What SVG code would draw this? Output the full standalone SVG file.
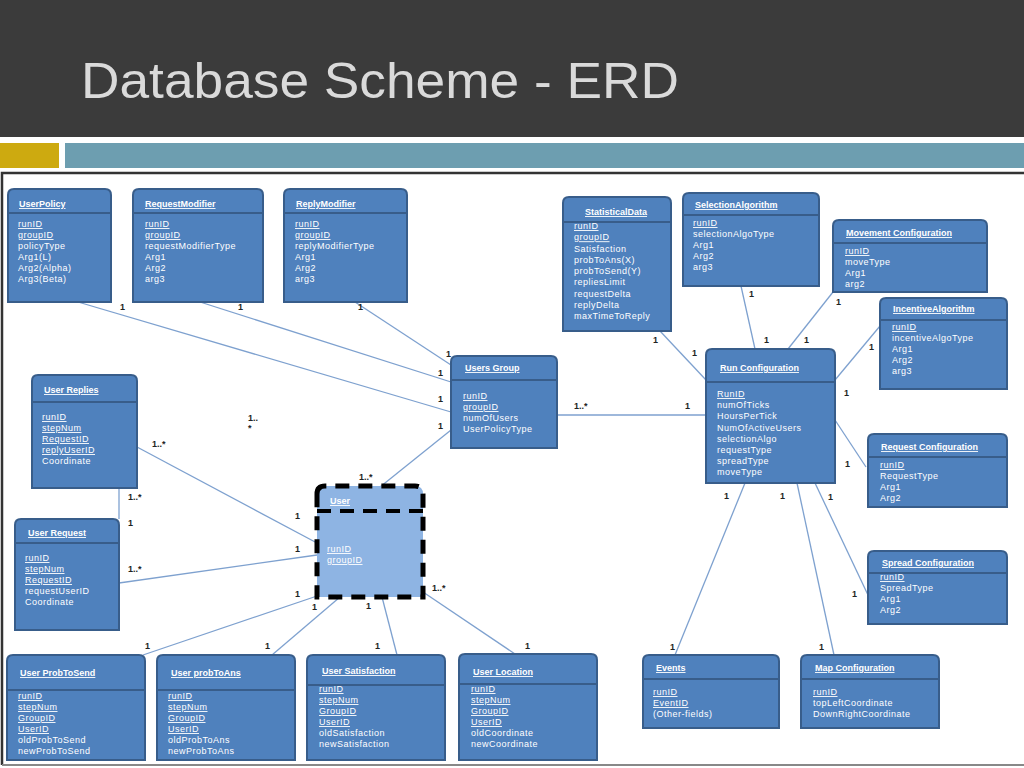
<svg xmlns="http://www.w3.org/2000/svg" width="1024" height="768" viewBox="0 0 1024 768">
<style>
.box{fill:#4f81bd;stroke:#385d8a;stroke-width:2}
.sep{stroke:#385d8a;stroke-width:2}
.ubox{fill:#8eb4e3;stroke:#000;stroke-width:5;stroke-dasharray:14 9}
.usep{stroke:#000;stroke-width:4;stroke-dasharray:14 9}
.t{font-family:"Liberation Sans",Arial,sans-serif;font-size:9px;font-weight:bold;fill:#fff;text-decoration:underline}
.f{font-family:"Liberation Sans",Arial,sans-serif;font-size:9px;fill:#fff;letter-spacing:0.5px}
.k{text-decoration:underline}
.c line{stroke:#7ea1cf;stroke-width:1.3}
.l{font-family:"Liberation Sans",Arial,sans-serif;font-size:9px;font-weight:bold;fill:#222}
</style>
<rect x="0" y="0" width="1024" height="768" fill="#fff"/>
<rect x="0" y="0" width="1024" height="137" fill="#3b3b3b"/>
<text x="81" y="98" font-family="'Liberation Sans',Arial,sans-serif" font-size="50" fill="#dadada" textLength="598" lengthAdjust="spacingAndGlyphs">Database Scheme - ERD</text>
<rect x="0" y="143" width="59" height="25" fill="#cdaa10"/>
<rect x="65" y="143" width="959" height="25" fill="#6d9eb0"/>
<path d="M2,765 V173 H1024" fill="none" stroke="#333" stroke-width="2.5"/>
<line x1="2" y1="765" x2="1024" y2="765" stroke="#888" stroke-width="2"/>

<g class="c" id="connectors">
<line x1="78" y1="302" x2="451" y2="412"/>
<line x1="200" y1="302" x2="451" y2="382"/>
<line x1="355" y1="302" x2="451" y2="365"/>
<line x1="451" y1="430" x2="380" y2="487"/>
<line x1="557" y1="415" x2="706" y2="415"/>
<line x1="137" y1="447" x2="317" y2="543"/>
<line x1="119" y1="488" x2="119" y2="519"/>
<line x1="119" y1="583" x2="317" y2="555"/>
<line x1="317" y1="596" x2="143" y2="655"/>
<line x1="340" y1="597" x2="272" y2="655"/>
<line x1="382" y1="597" x2="397" y2="655"/>
<line x1="423" y1="592" x2="515" y2="654"/>
<line x1="660" y1="331" x2="706" y2="380"/>
<line x1="741" y1="286" x2="755" y2="349"/>
<line x1="833" y1="292" x2="788" y2="349"/>
<line x1="880" y1="326" x2="835" y2="380"/>
<line x1="835" y1="420" x2="866" y2="467"/>
<line x1="815" y1="483" x2="868" y2="595"/>
<line x1="797" y1="483" x2="834" y2="655"/>
<line x1="745" y1="483" x2="675" y2="655"/>
</g>

<g id="labels">
<text class="l" x="120" y="310">1</text>
<text class="l" x="238" y="310">1</text>
<text class="l" x="358" y="310">1</text>
<text class="l" x="446" y="357">1</text>
<text class="l" x="438" y="376">1</text>
<text class="l" x="438" y="402">1</text>
<text class="l" x="438" y="429">1</text>
<text class="l" x="359" y="480">1..*</text>
<text class="l" x="574" y="409">1..*</text>
<text class="l" x="685" y="409">1</text>
<text class="l" x="248" y="421">1..</text>
<text class="l" x="248" y="431">*</text>
<text class="l" x="152" y="447">1..*</text>
<text class="l" x="295" y="519">1</text>
<text class="l" x="128" y="500">1..*</text>
<text class="l" x="128" y="526">1</text>
<text class="l" x="128" y="572">1..*</text>
<text class="l" x="295" y="552">1</text>
<text class="l" x="295" y="597">1</text>
<text class="l" x="312" y="610">1</text>
<text class="l" x="366" y="609">1</text>
<text class="l" x="432" y="591">1..*</text>
<text class="l" x="145" y="649">1</text>
<text class="l" x="265" y="649">1</text>
<text class="l" x="375" y="649">1</text>
<text class="l" x="525" y="649">1</text>
<text class="l" x="653" y="343">1</text>
<text class="l" x="692" y="356">1</text>
<text class="l" x="749" y="297">1</text>
<text class="l" x="764" y="343">1</text>
<text class="l" x="836" y="305">1</text>
<text class="l" x="804" y="343">1</text>
<text class="l" x="869" y="350">1</text>
<text class="l" x="844" y="396">1</text>
<text class="l" x="845" y="467">1</text>
<text class="l" x="828" y="500">1</text>
<text class="l" x="852" y="597">1</text>
<text class="l" x="780" y="499">1</text>
<text class="l" x="819" y="650">1</text>
<text class="l" x="724" y="499">1</text>
<text class="l" x="670" y="650">1</text>
</g>

<g id="UserPolicy">
<path class="box" d="M8,195 Q8,189 14,189 H105 Q111,189 111,195 V302 H8 Z"/>
<line class="sep" x1="8" y1="213" x2="111" y2="213"/>
<text class="t" x="19" y="207">UserPolicy</text>
<text class="f" x="18" y="227"><tspan class="k">runID</tspan><tspan x="18" dy="11" class="k">groupID</tspan><tspan x="18" dy="11">policyType</tspan><tspan x="18" dy="11">Arg1(L)</tspan><tspan x="18" dy="11">Arg2(Alpha)</tspan><tspan x="18" dy="11">Arg3(Beta)</tspan></text>
</g>

<g id="RequestModifier">
<path class="box" d="M133,195 Q133,189 139,189 H257 Q263,189 263,195 V302 H133 Z"/>
<line class="sep" x1="133" y1="213" x2="263" y2="213"/>
<text class="t" x="145" y="207">RequestModifier</text>
<text class="f" x="145" y="227"><tspan class="k">runID</tspan><tspan x="145" dy="11" class="k">groupID</tspan><tspan x="145" dy="11">requestModifierType</tspan><tspan x="145" dy="11">Arg1</tspan><tspan x="145" dy="11">Arg2</tspan><tspan x="145" dy="11">arg3</tspan></text>
</g>

<g id="ReplyModifier">
<path class="box" d="M284,195 Q284,189 290,189 H401 Q407,189 407,195 V302 H284 Z"/>
<line class="sep" x1="284" y1="213" x2="407" y2="213"/>
<text class="t" x="296" y="207">ReplyModifier</text>
<text class="f" x="295" y="227"><tspan class="k">runID</tspan><tspan x="295" dy="11" class="k">groupID</tspan><tspan x="295" dy="11">replyModifierType</tspan><tspan x="295" dy="11">Arg1</tspan><tspan x="295" dy="11">Arg2</tspan><tspan x="295" dy="11">arg3</tspan></text>
</g>

<g id="StatisticalData">
<path class="box" d="M563,203 Q563,197 569,197 H665 Q671,197 671,203 V331 H563 Z"/>
<line class="sep" x1="563" y1="222" x2="671" y2="222"/>
<text class="t" x="585" y="215">StatisticalData</text>
<text class="f" x="574" y="229"><tspan class="k">runID</tspan><tspan x="574" dy="11.25" class="k">groupID</tspan><tspan x="574" dy="11.25">Satisfaction</tspan><tspan x="574" dy="11.25">probToAns(X)</tspan><tspan x="574" dy="11.25">probToSend(Y)</tspan><tspan x="574" dy="11.25">repliesLimit</tspan><tspan x="574" dy="11.25">requestDelta</tspan><tspan x="574" dy="11.25">replyDelta</tspan><tspan x="574" dy="11.25">maxTimeToReply</tspan></text>
</g>

<g id="SelectionAlgorithm">
<path class="box" d="M683,199 Q683,193 689,193 H813 Q819,193 819,199 V286 H683 Z"/>
<line class="sep" x1="683" y1="215" x2="819" y2="215"/>
<text class="t" x="695" y="208">SelectionAlgorithm</text>
<text class="f" x="693" y="226"><tspan class="k">runID</tspan><tspan x="693" dy="11">selectionAlgoType</tspan><tspan x="693" dy="11">Arg1</tspan><tspan x="693" dy="11">Arg2</tspan><tspan x="693" dy="11">arg3</tspan></text>
</g>

<g id="MovementConfiguration">
<path class="box" d="M833,226 Q833,220 839,220 H981 Q987,220 987,226 V292 H833 Z"/>
<line class="sep" x1="833" y1="243" x2="987" y2="243"/>
<text class="t" x="846" y="236">Movement Configuration</text>
<text class="f" x="845" y="254"><tspan class="k">runID</tspan><tspan x="845" dy="11">moveType</tspan><tspan x="845" dy="11">Arg1</tspan><tspan x="845" dy="11">arg2</tspan></text>
</g>

<g id="IncentiveAlgorithm">
<path class="box" d="M880,304 Q880,298 886,298 H1001 Q1007,298 1007,304 V389 H880 Z"/>
<line class="sep" x1="880" y1="320" x2="1007" y2="320"/>
<text class="t" x="893" y="312">IncentiveAlgorithm</text>
<text class="f" x="892" y="330"><tspan class="k">runID</tspan><tspan x="892" dy="11">incentiveAlgoType</tspan><tspan x="892" dy="11">Arg1</tspan><tspan x="892" dy="11">Arg2</tspan><tspan x="892" dy="11">arg3</tspan></text>
</g>

<g id="RunConfiguration">
<path class="box" d="M706,355 Q706,349 712,349 H829 Q835,349 835,355 V483 H706 Z"/>
<line class="sep" x1="706" y1="382" x2="835" y2="382"/>
<text class="t" x="720" y="371">Run Configuration</text>
<text class="f" x="717" y="397"><tspan class="k">RunID</tspan><tspan x="717" dy="11.2">numOfTicks</tspan><tspan x="717" dy="11.2">HoursPerTick</tspan><tspan x="717" dy="11.2">NumOfActiveUsers</tspan><tspan x="717" dy="11.2">selectionAlgo</tspan><tspan x="717" dy="11.2">requestType</tspan><tspan x="717" dy="11.2">spreadType</tspan><tspan x="717" dy="11.2">moveType</tspan></text>
</g>

<g id="RequestConfiguration">
<path class="box" d="M868,440 Q868,434 874,434 H1001 Q1007,434 1007,440 V507 H868 Z"/>
<line class="sep" x1="868" y1="457" x2="1007" y2="457"/>
<text class="t" x="881" y="450">Request Configuration</text>
<text class="f" x="880" y="468"><tspan class="k">runID</tspan><tspan x="880" dy="11">RequestType</tspan><tspan x="880" dy="11">Arg1</tspan><tspan x="880" dy="11">Arg2</tspan></text>
</g>

<g id="SpreadConfiguration">
<path class="box" d="M868,557 Q868,551 874,551 H1001 Q1007,551 1007,557 V624 H868 Z"/>
<line class="sep" x1="868" y1="573" x2="1007" y2="573"/>
<text class="t" x="882" y="566">Spread Configuration</text>
<text class="f" x="880" y="580"><tspan class="k">runID</tspan><tspan x="880" dy="11">SpreadType</tspan><tspan x="880" dy="11">Arg1</tspan><tspan x="880" dy="11">Arg2</tspan></text>
</g>

<g id="Events">
<path class="box" d="M643,661 Q643,655 649,655 H773 Q779,655 779,661 V728 H643 Z"/>
<line class="sep" x1="643" y1="679" x2="779" y2="679"/>
<text class="t" x="656" y="671">Events</text>
<text class="f" x="653" y="695"><tspan class="k">runID</tspan><tspan x="653" dy="11" class="k">EventID</tspan><tspan x="653" dy="11">(Other-fields)</tspan></text>
</g>

<g id="MapConfiguration">
<path class="box" d="M801,661 Q801,655 807,655 H933 Q939,655 939,661 V728 H801 Z"/>
<line class="sep" x1="801" y1="679" x2="939" y2="679"/>
<text class="t" x="815" y="671">Map Configuration</text>
<text class="f" x="813" y="695"><tspan class="k">runID</tspan><tspan x="813" dy="11">topLeftCoordinate</tspan><tspan x="813" dy="11">DownRightCoordinate</tspan></text>
</g>

<g id="UsersGroup">
<path class="box" d="M451,362 Q451,356 457,356 H551 Q557,356 557,362 V448 H451 Z"/>
<line class="sep" x1="451" y1="380" x2="557" y2="380"/>
<text class="t" x="465" y="371">Users Group</text>
<text class="f" x="463" y="399"><tspan class="k">runID</tspan><tspan x="463" dy="11" class="k">groupID</tspan><tspan x="463" dy="11">numOfUsers</tspan><tspan x="463" dy="11">UserPolicyType</tspan></text>
</g>

<g id="User">
<path class="ubox" d="M317,494 Q317,486 325,486 H415 Q423,486 423,494 V597 H317 Z"/>
<line class="usep" x1="317" y1="511" x2="423" y2="511"/>
<text class="t" x="330" y="504">User</text>
<text class="f" x="327" y="552"><tspan class="k">runID</tspan><tspan x="327" dy="11" class="k">groupID</tspan></text>
</g>

<g id="UserReplies">
<path class="box" d="M32,381 Q32,375 38,375 H131 Q137,375 137,381 V488 H32 Z"/>
<line class="sep" x1="32" y1="402" x2="137" y2="402"/>
<text class="t" x="44" y="393">User Replies</text>
<text class="f" x="42" y="420"><tspan class="k">runID</tspan><tspan x="42" dy="11" class="k">stepNum</tspan><tspan x="42" dy="11" class="k">RequestID</tspan><tspan x="42" dy="11" class="k">replyUserID</tspan><tspan x="42" dy="11">Coordinate</tspan></text>
</g>

<g id="UserRequest">
<path class="box" d="M15,525 Q15,519 21,519 H113 Q119,519 119,525 V630 H15 Z"/>
<line class="sep" x1="15" y1="543" x2="119" y2="543"/>
<text class="t" x="28" y="536">User Request</text>
<text class="f" x="25" y="561"><tspan class="k">runID</tspan><tspan x="25" dy="11" class="k">stepNum</tspan><tspan x="25" dy="11" class="k">RequestID</tspan><tspan x="25" dy="11">requestUserID</tspan><tspan x="25" dy="11">Coordinate</tspan></text>
</g>

<g id="UserProbToSend">
<path class="box" d="M7,661 Q7,655 13,655 H139 Q145,655 145,661 V760 H7 Z"/>
<line class="sep" x1="7" y1="690" x2="145" y2="690"/>
<text class="t" x="20" y="676">User ProbToSend</text>
<text class="f" x="18" y="699"><tspan class="k">runID</tspan><tspan x="18" dy="11" class="k">stepNum</tspan><tspan x="18" dy="11" class="k">GroupID</tspan><tspan x="18" dy="11" class="k">UserID</tspan><tspan x="18" dy="11">oldProbToSend</tspan><tspan x="18" dy="11">newProbToSend</tspan></text>
</g>

<g id="UserProbToAns">
<path class="box" d="M157,661 Q157,655 163,655 H289 Q295,655 295,661 V760 H157 Z"/>
<line class="sep" x1="157" y1="690" x2="295" y2="690"/>
<text class="t" x="171" y="676">User probToAns</text>
<text class="f" x="168" y="699"><tspan class="k">runID</tspan><tspan x="168" dy="11" class="k">stepNum</tspan><tspan x="168" dy="11" class="k">GroupID</tspan><tspan x="168" dy="11" class="k">UserID</tspan><tspan x="168" dy="11">oldProbToAns</tspan><tspan x="168" dy="11">newProbToAns</tspan></text>
</g>

<g id="UserSatisfaction">
<path class="box" d="M307,661 Q307,655 313,655 H439 Q445,655 445,661 V760 H307 Z"/>
<line class="sep" x1="307" y1="685" x2="445" y2="685"/>
<text class="t" x="322" y="674">User Satisfaction</text>
<text class="f" x="319" y="692"><tspan class="k">runID</tspan><tspan x="319" dy="11" class="k">stepNum</tspan><tspan x="319" dy="11" class="k">GroupID</tspan><tspan x="319" dy="11" class="k">UserID</tspan><tspan x="319" dy="11">oldSatisfaction</tspan><tspan x="319" dy="11">newSatisfaction</tspan></text>
</g>

<g id="UserLocation">
<path class="box" d="M459,660 Q459,654 465,654 H591 Q597,654 597,660 V760 H459 Z"/>
<line class="sep" x1="459" y1="684" x2="597" y2="684"/>
<text class="t" x="473" y="675">User Location</text>
<text class="f" x="471" y="692"><tspan class="k">runID</tspan><tspan x="471" dy="11" class="k">stepNum</tspan><tspan x="471" dy="11" class="k">GroupID</tspan><tspan x="471" dy="11" class="k">UserID</tspan><tspan x="471" dy="11">oldCoordinate</tspan><tspan x="471" dy="11">newCoordinate</tspan></text>
</g>
</svg>
